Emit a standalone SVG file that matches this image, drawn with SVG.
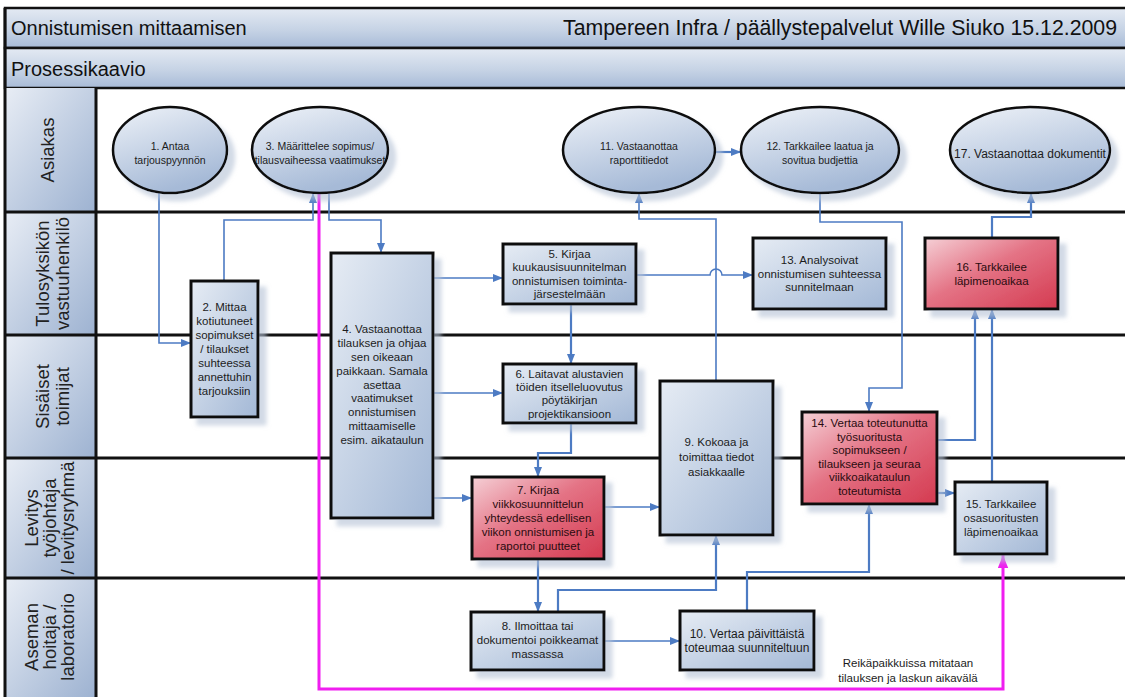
<svg xmlns="http://www.w3.org/2000/svg" width="1125" height="697" viewBox="0 0 1125 697">
  <defs>
    <linearGradient id="gBand" x1="0" y1="0" x2="0" y2="1">
      <stop offset="0" stop-color="#e4eaf3"/>
      <stop offset="0.55" stop-color="#c6d3e5"/>
      <stop offset="1" stop-color="#a8bbd7"/>
    </linearGradient>
    <linearGradient id="gLane" x1="0" y1="0" x2="1" y2="1">
      <stop offset="0" stop-color="#e8edf5"/>
      <stop offset="1" stop-color="#9db2d1"/>
    </linearGradient>
    <linearGradient id="gBox" x1="0" y1="0" x2="1" y2="1">
      <stop offset="0" stop-color="#e6ecf4"/>
      <stop offset="1" stop-color="#a3b8d6"/>
    </linearGradient>
    <linearGradient id="gOval" x1="0" y1="0" x2="0.4" y2="1">
      <stop offset="0" stop-color="#eef2f8"/>
      <stop offset="1" stop-color="#a6bad7"/>
    </linearGradient>
    <linearGradient id="gRed" x1="0" y1="0" x2="1" y2="1">
      <stop offset="0" stop-color="#f5d0d6"/>
      <stop offset="0.45" stop-color="#e47385"/>
      <stop offset="1" stop-color="#d43a50"/>
    </linearGradient>
    <filter id="shadow" x="-15%" y="-15%" width="140%" height="140%">
      <feDropShadow dx="7" dy="7" stdDeviation="2" flood-color="#b4c1d5" flood-opacity="0.6"/>
    </filter>
    <marker id="arr" viewBox="0 0 10 8" refX="10" refY="4" markerWidth="10" markerHeight="8" markerUnits="userSpaceOnUse" orient="auto">
      <path d="M0,0 L10,4 L0,8 z" fill="#4d7bc3"/>
    </marker>
    <marker id="arrPink" viewBox="0 0 10 8" refX="10" refY="4" markerWidth="13" markerHeight="11" markerUnits="userSpaceOnUse" orient="auto">
      <path d="M0,0 L10,4 L0,8 z" fill="#f01ef0"/>
    </marker>
  </defs>
  <style>
    .t { font-family: "Liberation Sans", Arial, sans-serif; fill: #1c1c1c; }
    .hd { font-size: 20px; fill: #111; }
    .ln { font-size: 18.5px; text-anchor: middle; fill: #222; }
    .bx { font-size: 11.5px; text-anchor: middle; }
    .ov { font-size: 10.5px; text-anchor: middle; }
    .rt { fill: #2a0c10; }
    .band { fill: url(#gBand); stroke: #111; stroke-width: 2.5; }
    .cell { fill: url(#gLane); }
    .rule { stroke: #111; stroke-width: 3; fill: none; }
    .box { fill: url(#gBox); stroke: #111; stroke-width: 3; filter: url(#shadow); }
    .red { fill: url(#gRed); stroke: #111; stroke-width: 3; filter: url(#shadow); }
    .oval { fill: url(#gOval); stroke: #111; stroke-width: 2.5; filter: url(#shadow); }
    .c { fill: none; stroke: #4d7bc3; stroke-width: 1.6; marker-end: url(#arr); }
    .c2 { stroke-width: 2.2; }
    .pink { fill: none; stroke: #f01ef0; stroke-width: 3; marker-end: url(#arrPink); }
  </style>

  <rect width="1125" height="697" fill="#ffffff"/>

  <!-- header bands -->
  <g id="header">
    <rect class="band" x="5" y="8" width="1130" height="40"/>
    <rect class="band" x="5" y="48" width="1130" height="40"/>
    <text class="t hd" x="11" y="35">Onnistumisen mittaamisen</text>
    <text class="t hd" x="563" y="35" style="font-size:21.3px">Tampereen Infra / päällystepalvelut Wille Siuko 15.12.2009</text>
    <text class="t hd" x="11" y="76">Prosessikaavio</text>
  </g>

  <!-- swimlanes -->
  <g id="lanes">
    <rect class="cell" x="5" y="88" width="91" height="124"/>
    <rect class="cell" x="5" y="212" width="91" height="123"/>
    <rect class="cell" x="5" y="335" width="91" height="123"/>
    <rect class="cell" x="5" y="458" width="91" height="120"/>
    <rect class="cell" x="5" y="578" width="91" height="119"/>
    <path class="rule" d="M5,212 H1125 M5,335 H1125 M5,458 H1125 M5,578 H1125 M96,88 V697 M5,8 V697"/>
    <text class="t ln" transform="translate(54,150) rotate(-90)">Asiakas</text>
    <text class="t ln" transform="translate(49,273.5) rotate(-90)">Tulosyksikön</text>
    <text class="t ln" transform="translate(69,273.5) rotate(-90)">vastuuhenkilö</text>
    <text class="t ln" transform="translate(49,396.5) rotate(-90)">Sisäiset</text>
    <text class="t ln" transform="translate(69,396.5) rotate(-90)">toimijat</text>
    <text class="t ln" transform="translate(38,518) rotate(-90)">Levitys</text>
    <text class="t ln" transform="translate(56,518) rotate(-90)">työjohtaja</text>
    <text class="t ln" transform="translate(74,518) rotate(-90)">/ levitysryhmä</text>
    <text class="t ln" transform="translate(38,637) rotate(-90)">Aseman</text>
    <text class="t ln" transform="translate(56,637) rotate(-90)">hoitaja /</text>
    <text class="t ln" transform="translate(74,637) rotate(-90)">laboratorio</text>
  </g>

  <!-- connectors -->
  <g id="connectors">
    <path class="c" d="M159,192 V343 H191"/>
    <path class="c" d="M224,281 V220 H313 V193"/>
    <path class="pink" d="M319,193 V689 H1003 V555"/>
    <path class="c" d="M329,193 V220 H381 V253"/>
    <path class="c" d="M433,278 H503"/>
    <path class="c" d="M433,393 H503"/>
    <path class="c" d="M433,498 H472"/>
    <path class="c c2" d="M571,304 V364"/>
    <path class="c c2" d="M571,423 V453 H538 V477"/>
    <path class="c" d="M604,507 H660"/>
    <path class="c c2" d="M538,559 V612"/>
    <path class="c c2" d="M558,612 V590 H716 V535"/>
    <path class="c" d="M604,641 H680"/>
    <path class="c c2" d="M747,611 V572 H869 V504"/>
    <path class="c" d="M716,381 V219 H639 V193"/>
    <path class="c" d="M636,275 H710 A6,6 0 0 1 722,275 H753"/>
    <path class="c c2" d="M715,152 H741"/>
    <path class="c" d="M820,193 V222 H902 V388 H869 V412"/>
    <path class="c c2" d="M937,440 H975 V309"/>
    <path class="c c2" d="M992,482 V309"/>
    <path class="c c2" d="M937,493 H955"/>
    <path class="c c2" d="M992,238 V217 H1031 V193"/>
    <text class="t bx" x="908" y="667">Reikäpaikkuissa mitataan</text>
    <text class="t bx" x="908" y="682">tilauksen ja laskun aikavälä</text>
  </g>

  <!-- customer lane -->
  <g id="n1">
    <ellipse class="oval" cx="170" cy="150" rx="57" ry="43"/>
    <text class="t ov" x="170" y="150">1. Antaa</text>
    <text class="t ov" x="170" y="164">tarjouspyynnön</text>
  </g>
  <g id="n3">
    <ellipse class="oval" cx="320" cy="150" rx="68" ry="43"/>
    <text class="t ov" x="320" y="150">3. Määrittelee sopimus/</text>
    <text class="t ov" x="320" y="164">tilausvaiheessa vaatimukset</text>
  </g>
  <g id="n11">
    <ellipse class="oval" cx="639" cy="150" rx="76" ry="43"/>
    <text class="t ov" x="639" y="150">11. Vastaanottaa</text>
    <text class="t ov" x="639" y="164">raporttitiedot</text>
  </g>
  <g id="n12">
    <ellipse class="oval" cx="820" cy="150" rx="79" ry="43"/>
    <text class="t ov" x="820" y="150">12. Tarkkailee laatua ja</text>
    <text class="t ov" x="820" y="164">sovitua budjettia</text>
  </g>
  <g id="n17">
    <ellipse class="oval" cx="1030" cy="150" rx="80" ry="43"/>
    <text class="t ov" x="1030" y="158" style="font-size:12px">17. Vastaanottaa dokumentit</text>
  </g>

  <!-- process steps -->
  <g id="n2">
    <rect class="box" x="191" y="281" width="67" height="136"/>
    <text class="t bx" x="224.5" y="311">2. Mittaa</text>
    <text class="t bx" x="224.5" y="325">kotiutuneet</text>
    <text class="t bx" x="224.5" y="339">sopimukset</text>
    <text class="t bx" x="224.5" y="353">/ tilaukset</text>
    <text class="t bx" x="224.5" y="367">suhteessa</text>
    <text class="t bx" x="224.5" y="381">annettuhin</text>
    <text class="t bx" x="224.5" y="395">tarjouksiin</text>
  </g>
  <g id="n4">
    <rect class="box" x="331" y="253" width="102" height="265"/>
    <text class="t bx" x="382" y="333">4. Vastaanottaa</text>
    <text class="t bx" x="382" y="347">tilauksen ja ohjaa</text>
    <text class="t bx" x="382" y="361">sen oikeaan</text>
    <text class="t bx" x="382" y="375">paikkaan. Samala</text>
    <text class="t bx" x="382" y="389">asettaa</text>
    <text class="t bx" x="382" y="402">vaatimukset</text>
    <text class="t bx" x="382" y="416">onnistumisen</text>
    <text class="t bx" x="382" y="430">mittaamiselle</text>
    <text class="t bx" x="382" y="444">esim. aikataulun</text>
  </g>
  <g id="n5">
    <rect class="box" x="503" y="244" width="133" height="60"/>
    <text class="t bx" x="569.5" y="258">5. Kirjaa</text>
    <text class="t bx" x="569.5" y="271">kuukausisuunnitelman</text>
    <text class="t bx" x="569.5" y="285">onnistumisen toiminta-</text>
    <text class="t bx" x="569.5" y="298">järsestelmään</text>
  </g>
  <g id="n6">
    <rect class="box" x="503" y="364" width="133" height="59"/>
    <text class="t bx" x="569.5" y="377.5">6. Laitavat alustavien</text>
    <text class="t bx" x="569.5" y="391">töiden itselleluovutus</text>
    <text class="t bx" x="569.5" y="404">pöytäkirjan</text>
    <text class="t bx" x="569.5" y="417.5">projektikansioon</text>
  </g>
  <g id="n7">
    <rect class="red" x="472" y="477" width="132" height="82"/>
    <text class="t bx rt" x="538" y="494">7. Kirjaa</text>
    <text class="t bx rt" x="538" y="508">viikkosuunnittelun</text>
    <text class="t bx rt" x="538" y="522">yhteydessä edellisen</text>
    <text class="t bx rt" x="538" y="536">viikon onnistumisen ja</text>
    <text class="t bx rt" x="538" y="550">raportoi puutteet</text>
  </g>
  <g id="n8">
    <rect class="box" x="471" y="612" width="133" height="58"/>
    <text class="t bx" x="537.5" y="630">8. Ilmoittaa tai</text>
    <text class="t bx" x="537.5" y="644">dokumentoi poikkeamat</text>
    <text class="t bx" x="537.5" y="658">massassa</text>
  </g>
  <g id="n9">
    <rect class="box" x="660" y="381" width="113" height="154"/>
    <text class="t bx" x="716.5" y="446">9. Kokoaa ja</text>
    <text class="t bx" x="716.5" y="461">toimittaa tiedot</text>
    <text class="t bx" x="716.5" y="476">asiakkaalle</text>
  </g>
  <g id="n10">
    <rect class="box" x="680" y="611" width="134" height="59"/>
    <text class="t bx" x="747" y="637.5" style="font-size:12px">10. Vertaa päivittäistä</text>
    <text class="t bx" x="747" y="651.5" style="font-size:12px">toteumaa suunniteltuun</text>
  </g>
  <g id="n13">
    <rect class="box" x="753" y="238" width="133" height="71"/>
    <text class="t bx" x="819.5" y="264">13. Analysoivat</text>
    <text class="t bx" x="819.5" y="277.5">onnistumisen suhteessa</text>
    <text class="t bx" x="819.5" y="291">sunnitelmaan</text>
  </g>
  <g id="n14">
    <rect class="red" x="802" y="412" width="135" height="92"/>
    <text class="t bx rt" x="869.5" y="427">14. Vertaa toteutunutta</text>
    <text class="t bx rt" x="869.5" y="440.6">työsuoritusta</text>
    <text class="t bx rt" x="869.5" y="454.2">sopimukseen /</text>
    <text class="t bx rt" x="869.5" y="467.8">tilaukseen ja seuraa</text>
    <text class="t bx rt" x="869.5" y="481.4">viikkoaikataulun</text>
    <text class="t bx rt" x="869.5" y="495">toteutumista</text>
  </g>
  <g id="n15">
    <rect class="box" x="955" y="482" width="92" height="72"/>
    <text class="t bx" x="1001" y="508">15. Tarkkailee</text>
    <text class="t bx" x="1001" y="522">osasuoritusten</text>
    <text class="t bx" x="1001" y="536">läpimenoaikaa</text>
  </g>
  <g id="n16">
    <rect class="red" x="925" y="238" width="133" height="71"/>
    <text class="t bx rt" x="991.5" y="271">16. Tarkkailee</text>
    <text class="t bx rt" x="991.5" y="285">läpimenoaikaa</text>
  </g>
</svg>
